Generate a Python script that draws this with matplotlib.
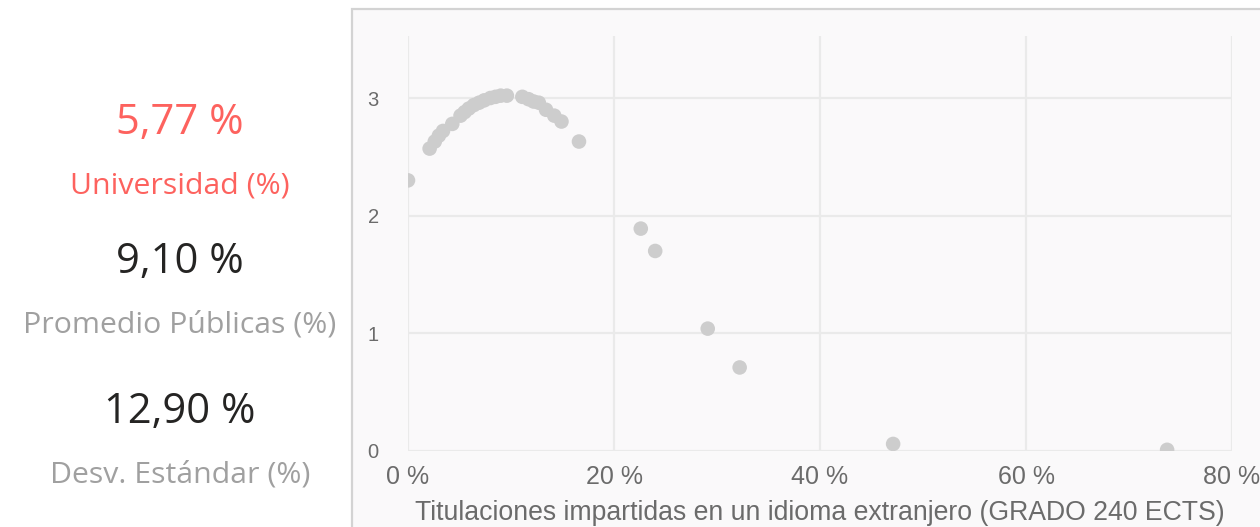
import matplotlib
matplotlib.use("Agg")
import matplotlib.pyplot as plt
from matplotlib.patches import Rectangle

# ---- data ----
x_pct = [0.0, 2.1, 2.6, 3.0, 3.4, 4.3, 5.1, 5.5, 5.9, 6.4, 6.9, 7.4, 8.0, 8.5, 9.0, 9.6,
         11.1, 11.7, 12.2, 12.7, 13.4, 14.2, 14.9, 16.6, 22.6, 24.0, 29.1, 32.2, 47.1, 73.7]
y_val = [2.30, 2.57, 2.63, 2.68, 2.72, 2.78, 2.85, 2.88, 2.91, 2.94, 2.96, 2.98, 3.00, 3.01, 3.02, 3.02,
         3.01, 2.99, 2.97, 2.96, 2.90, 2.85, 2.80, 2.63, 1.89, 1.70, 1.04, 0.71, 0.06, 0.01]
x_ticks = [0, 20, 40, 60, 80]
x_tick_labels = ["0 %", "20 %", "40 %", "60 %", "80 %"]
y_ticks = [0, 1, 2, 3]
x_label = "Titulaciones impartidas en un idioma extranjero (GRADO 240 ECTS)"

kpi_values = ["5,77 %", "9,10 %", "12,90 %"]
kpi_labels = ["Universidad (%)", "Promedio Públicas (%)", "Desv. Estándar (%)"]

W, H = 1260, 527
fig = plt.figure(figsize=(W / 100, H / 100), dpi=100)
fig.patch.set_facecolor("white")

# panel background with border
panel = Rectangle((352 / W, -0.01), (W - 352) / W + 0.01, (H - 9) / H + 0.01, transform=fig.transFigure,
                  facecolor="#faf9fa", edgecolor="#d3d3d3", linewidth=1.6, zorder=-10)
fig.add_artist(panel)

# KPI texts
kpi_val_colors = ["#fd625e", "#252423", "#252423"]
kpi_lab_colors = ["#fd625e", "#a0a0a0", "#a0a0a0"]
val_y = [123, 262, 412]
lab_y = [186, 325, 475]
for v, l, cv, cl, vy, ly in zip(kpi_values, kpi_labels, kpi_val_colors, kpi_lab_colors, val_y, lab_y):
    fig.text(180 / W, 1 - vy / H, v, ha="center", va="center", fontsize=30,
             color=cv, family=["Open Sans", "DejaVu Sans"])
    fig.text(180 / W, 1 - ly / H, l, ha="center", va="center", fontsize=21.8,
             color=cl, family=["Open Sans", "DejaVu Sans"])

# scatter axes
x0, x1 = 408, 1232
y0, y1 = 451, 36
ax = fig.add_axes([x0 / W, 1 - y0 / H, (x1 - x0) / W, (y0 - y1) / H])
ax.set_facecolor("none")
ax.set_xlim(0, 80)
ax.set_ylim(0, (y0 - y1) / (451 - 98) * 3)
ax.scatter(x_pct, y_val, s=110, color="#cdcdcd", edgecolors="none", zorder=3, clip_on=True)

ax.set_xticks(x_ticks)
ax.set_xticklabels(x_tick_labels)
ax.set_yticks(y_ticks)
ax.grid(True, color="#eaeaea", linewidth=1.6, zorder=0)
ax.set_axisbelow(True)
for s in ax.spines.values():
    s.set_visible(False)
ax.tick_params(length=0)
for t in ax.get_xticklabels():
    t.set_family(["Liberation Sans Narrow", "Liberation Sans"])
    t.set_fontsize(18)
    t.set_color("#6b6b6b")
for t in ax.get_yticklabels():
    t.set_family(["Liberation Sans Narrow", "Liberation Sans"])
    t.set_fontsize(14.5)
    t.set_color("#6b6b6b")
ax.tick_params(axis="x", pad=10)
ax.tick_params(axis="y", pad=21)
ax.set_xlabel(x_label, family=["Liberation Sans Narrow", "Liberation Sans"], fontsize=19.2,
              color="#6b6b6b", labelpad=8)

fig.savefig("out.png", dpi=100)
